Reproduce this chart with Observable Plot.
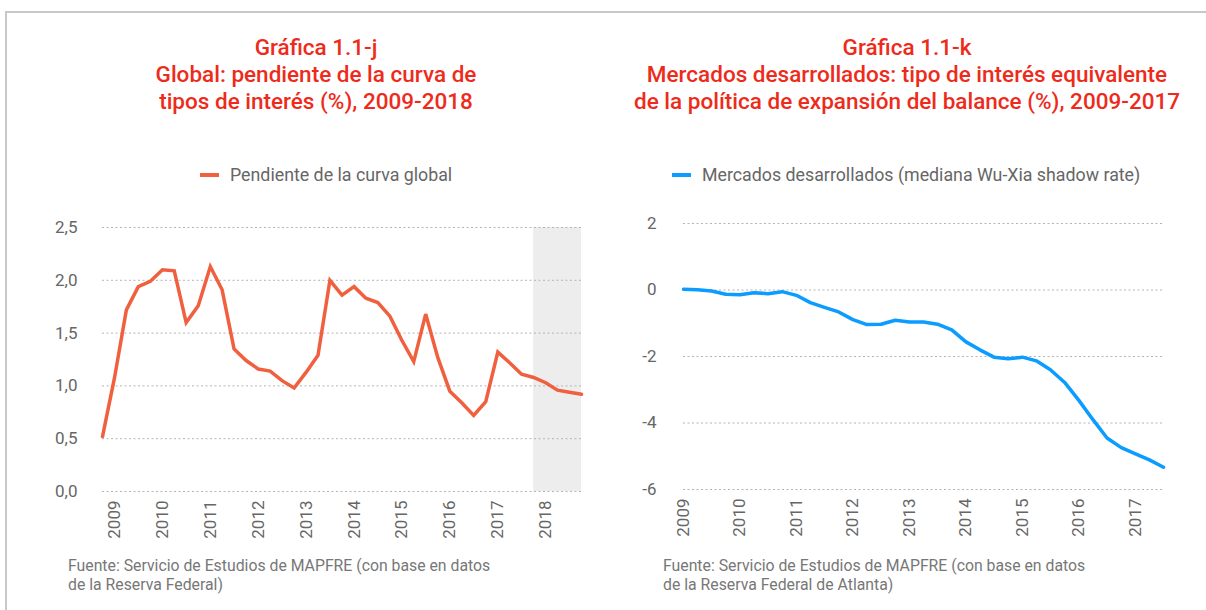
<!DOCTYPE html>
<html><head><meta charset="utf-8">
<script src="https://cdn.jsdelivr.net/npm/d3@7"></script>
<script src="https://cdn.jsdelivr.net/npm/@observablehq/plot@0.6"></script>
<style>
body{margin:0;background:#fff;font-family:Roboto,"Noto Sans",sans-serif;}
#wrap{position:relative;width:1206px;height:610px;overflow:hidden;background:#fff;}
.frame{position:absolute;left:5px;top:11px;width:1220px;height:640px;border-left:2px solid #c8c8c8;border-top:2px solid #c8c8c8;}
.title{position:absolute;top:34px;text-align:center;color:#ee2b1b;font-weight:500;font-size:22.5px;line-height:27px;white-space:nowrap;}
.legend{position:absolute;top:165px;font-size:17.8px;color:#666;line-height:20px;white-space:nowrap;}
.legend .sw{display:inline-block;width:19px;height:4px;vertical-align:middle;margin-right:11px;position:relative;top:-1px;}
.note{position:absolute;top:556px;font-size:15.8px;color:#777;line-height:19px;white-space:nowrap;}
.chart{position:absolute;top:210px;}
</style></head>
<body><div id="wrap">
<div class="frame"></div>
<div class="title" style="left:6px;width:620px">Gráfica 1.1-j<br>Global: pendiente de la curva de<br>tipos de interés (%), 2009-2018</div>
<div class="title" style="left:607px;width:600px">Gráfica 1.1-k<br>Mercados desarrollados: tipo de interés equivalente<br>de la política de expansión del balance (%), 2009-2017</div>
<div class="legend" style="left:200px"><span class="sw" style="background:#f0603f"></span>Pendiente de la curva global</div>
<div class="legend" style="left:672px"><span class="sw" style="background:#0a9cff"></span>Mercados desarrollados (mediana Wu-Xia shadow rate)</div>
<div id="left" class="chart" style="left:40px"></div>
<div id="right" class="chart" style="left:630px"></div>
<div class="note" style="left:68px">Fuente: Servicio de Estudios de MAPFRE (con base en datos<br>de la Reserva Federal)</div>
<div class="note" style="left:663px">Fuente: Servicio de Estudios de MAPFRE (con base en datos<br>de la Reserva Federal de Atlanta)</div>
</div>
<script>
// Left chart: quarterly, 2008 Q4 to 2018 Q4
const leftStart = "2008-10-01";
const leftValues = [0.52,1.08,1.72,1.94,1.99,2.10,2.09,1.60,1.76,2.13,1.91,1.35,1.24,1.16,1.14,1.05,0.98,1.13,1.29,2.00,1.86,1.94,1.83,1.79,1.66,1.43,1.23,1.68,1.27,0.95,0.84,0.72,0.85,1.32,1.22,1.11,1.08,1.03,0.96,0.94,0.92];
const leftBand = ["2017-10-01","2018-10-01"];
const leftYTicks = [0,0.5,1,1.5,2,2.5];
const leftYears = [2009,2010,2011,2012,2013,2014,2015,2016,2017,2018];

// Right chart: quarterly, 2009 Q1 to 2017 Q3
const rightStart = "2009-01-01";
const rightValues = [0.02,0.01,-0.03,-0.13,-0.14,-0.08,-0.11,-0.05,-0.16,-0.38,-0.52,-0.66,-0.89,-1.04,-1.03,-0.91,-0.96,-0.96,-1.03,-1.20,-1.56,-1.80,-2.02,-2.07,-2.02,-2.13,-2.40,-2.78,-3.32,-3.90,-4.45,-4.74,-4.93,-5.11,-5.33];
const rightYTicks = [-6,-4,-2,0,2];
const rightYears = [2009,2010,2011,2012,2013,2014,2015,2016,2017];

const toSeries = (start, vals) => vals.map((v,i) => ({date: d3.utcMonth.offset(new Date(start+"T00:00:00Z"), 3*i), value: v}));
const yearDates = ys => ys.map(y => new Date(Date.UTC(y,0,1)));

const leftData = toSeries(leftStart, leftValues);
const rightData = toSeries(rightStart, rightValues);

const common = {fontSize:"17px", fontFamily:"Roboto, sans-serif", color:"#666", background:"transparent", overflow:"visible"};

const left = Plot.plot({
  width:560, height:340, marginLeft:62, marginRight:19, marginTop:17, marginBottom:59,
  style: common,
  x:{type:"utc", domain:[leftData[0].date, leftData[leftData.length-1].date]},
  y:{domain:[0,2.5]},
  marks:[
    Plot.rect([{x1:new Date(leftBand[0]+"T00:00:00Z"), x2:new Date(leftBand[1]+"T00:00:00Z")}], {x1:"x1", x2:"x2", y1:0, y2:2.5, fill:"#ededed"}),
    Plot.gridY(leftYTicks, {stroke:"#b4b4b4", strokeOpacity:1, strokeDasharray:"2,2.5", strokeWidth:1}),
    Plot.axisY(leftYTicks, {tickSize:0, tickPadding:25, tickFormat:d => d.toFixed(1).replace(".",","), label:null}),
    Plot.axisX(yearDates(leftYears), {tickSize:0, tickPadding:9, tickRotate:-90, tickFormat:"%Y", label:null}),
    Plot.line(leftData, {x:"date", y:"value", stroke:"#f0603f", strokeWidth:3.5, strokeLinejoin:"miter", strokeMiterlimit:3})
  ]
});
document.getElementById("left").append(left);

const right = Plot.plot({
  width:576, height:340, marginLeft:53, marginRight:43, marginTop:13, marginBottom:61,
  style: common,
  x:{type:"utc", domain:[rightData[0].date, rightData[rightData.length-1].date]},
  y:{domain:[-6,2]},
  marks:[
    Plot.gridY(rightYTicks, {stroke:"#b4b4b4", strokeOpacity:1, strokeDasharray:"2,2.5", strokeWidth:1}),
    Plot.axisY(rightYTicks, {tickSize:0, tickPadding:27, tickFormat:d => String(d), label:null}),
    Plot.axisX(yearDates(rightYears), {tickSize:0, tickPadding:9, tickRotate:-90, tickFormat:"%Y", label:null}),
    Plot.line(rightData, {x:"date", y:"value", stroke:"#0a9cff", strokeWidth:3.5})
  ]
});
document.getElementById("right").append(right);
</script>
</body></html>
